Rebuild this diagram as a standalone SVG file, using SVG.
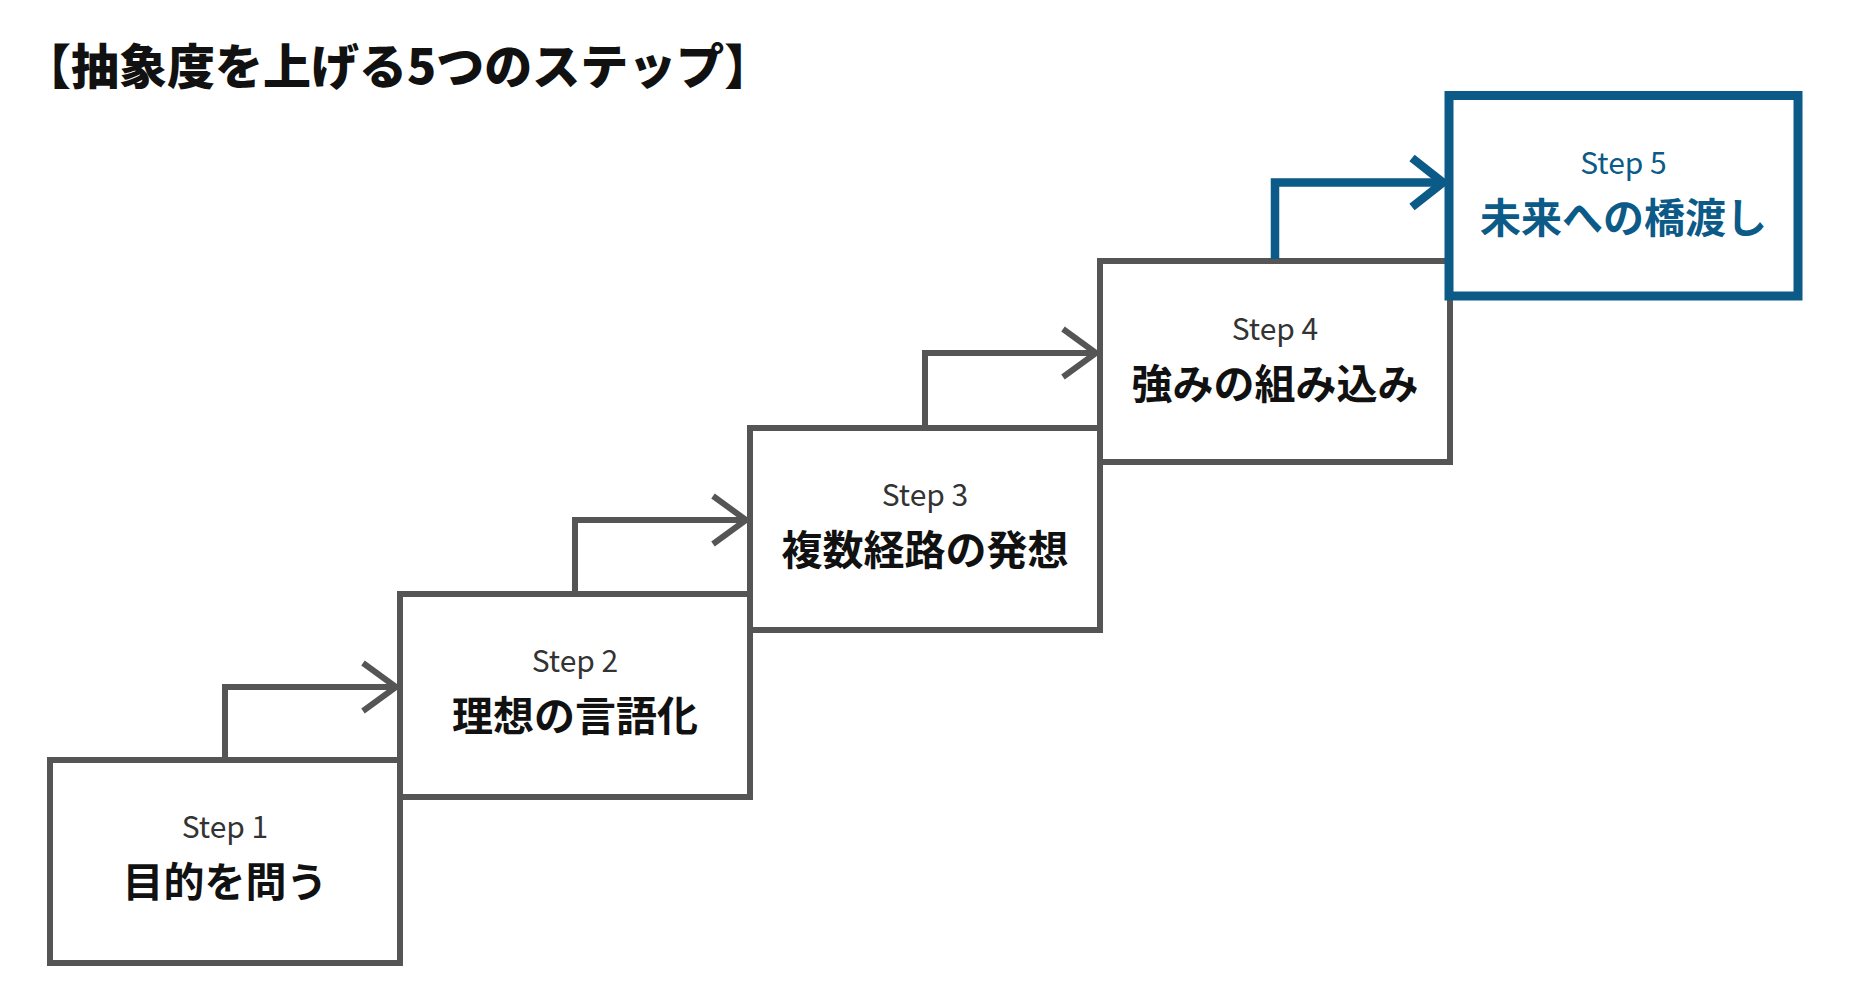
<svg xmlns="http://www.w3.org/2000/svg" width="1858" height="990" viewBox="0 0 1858 990">
  <style>
    .box { fill: #ffffff; stroke: #555555; stroke-width: 6; }
    .box5 { fill: #ffffff; stroke: #0b5a87; stroke-width: 9; }
    .conn { fill: none; stroke: #555555; stroke-width: 6; stroke-linejoin: miter; }
    .conn5 { fill: none; stroke: #0b5a87; stroke-width: 8.5; stroke-linejoin: miter; }
    .step { font-family: "Noto Sans CJK JP", "Noto Sans", sans-serif; font-size: 30px; font-weight: 400; fill: #333333; text-anchor: middle; }
    .main { font-family: "Noto Sans CJK JP", sans-serif; font-size: 41px; font-weight: 700; fill: #111111; text-anchor: middle; }
    .blue { fill: #0b5a87; }
    .title { font-family: "Noto Sans CJK JP", sans-serif; font-size: 48px; font-weight: 900; fill: #111111; }
  </style>
  <rect x="0" y="0" width="1858" height="990" fill="#ffffff"/>
  <text class="title" x="23" y="84">【抽象度を上げる5つのステップ】</text>

  <g id="connectors">
    <path class="conn" d="M225 760 V687 H397"/>
    <path class="conn" d="M363 663 L396 687 L363 711"/>
    <path class="conn" d="M575 594 V520 H747"/>
    <path class="conn" d="M713 496 L746 520 L713 544"/>
    <path class="conn" d="M925 428 V353 H1097"/>
    <path class="conn" d="M1063 329 L1096 353 L1063 377"/>
  </g>

  <g id="step1">
    <rect class="box" x="50" y="760" width="350" height="203"/>
    <text class="step" x="225" y="838">Step 1</text>
    <text class="main" x="225" y="897">目的を問う</text>
  </g>
  <g id="step2">
    <rect class="box" x="400" y="594" width="350" height="203"/>
    <text class="step" x="575" y="672">Step 2</text>
    <text class="main" x="575" y="731">理想の言語化</text>
  </g>
  <g id="step3">
    <rect class="box" x="750" y="428" width="350" height="202"/>
    <text class="step" x="925" y="506">Step 3</text>
    <text class="main" x="925" y="565">複数経路の発想</text>
  </g>
  <g id="step4">
    <rect class="box" x="1100" y="261" width="350" height="201"/>
    <text class="step" x="1275" y="340">Step 4</text>
    <text class="main" x="1275" y="399">強みの組み込み</text>
  </g>
  <g id="connector4">
    <path class="conn5" d="M1275 259 V182.5 H1444"/>
    <path class="conn5" d="M1412 158 L1443 182.5 L1412 207"/>
  </g>
  <g id="step5">
    <rect class="box5" x="1449" y="95.5" width="349" height="200.5"/>
    <text class="step blue" x="1623.5" y="174">Step 5</text>
    <text class="main blue" x="1623.5" y="233">未来への橋渡し</text>
  </g>
</svg>
